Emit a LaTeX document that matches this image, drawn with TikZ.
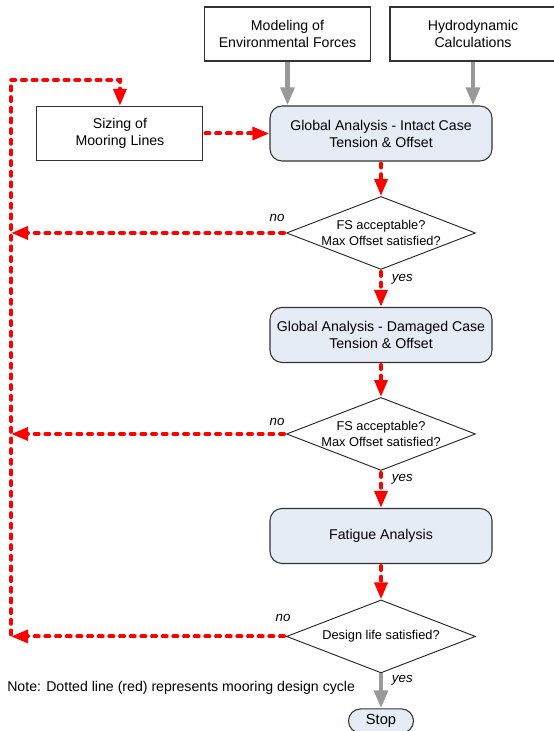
\documentclass[tikz,border=0pt]{standalone}
\usepackage{fontspec}
\setmainfont{Liberation Sans}
\usepackage{tikz}
\usetikzlibrary{arrows.meta,positioning,shapes.geometric}
\definecolor{procblue}{HTML}{E6ECF6}
\definecolor{cyclered}{HTML}{FF0000}
\definecolor{inputgray}{HTML}{999999}
\newcommand{\boxfont}{\fontsize{10.6}{12.8}\selectfont}
\newcommand{\decfont}{\fontsize{9.6}{11.6}\selectfont}

\begin{document}
\begin{tikzpicture}[
  x=0.75pt, y=-0.75pt,
  input/.style={draw=black!80, line width=0.8pt, fill=white, align=center, minimum width=124.5pt, minimum height=40.5pt, inner sep=0pt, font=\boxfont},
  proc/.style={draw=black!80, line width=0.8pt, rounded corners=9pt, fill=procblue, align=center, minimum width=166.5pt, minimum height=41.25pt, inner sep=0pt, font=\boxfont},
  decision/.style={draw=black!85, line width=0.7pt, diamond, fill=white, minimum width=141.75pt, minimum height=54.75pt, inner sep=0pt},
  dtext/.style={align=center, font=\decfont, inner sep=0pt},
  term/.style={draw=black!80, line width=0.8pt, rounded corners=9pt, fill=procblue, minimum width=48.75pt, minimum height=18pt, inner sep=0pt, font=\fontsize{11}{13}\selectfont},
  answer/.style={font=\fontsize{10}{12}\selectfont\itshape, inner sep=1pt},
  redge/.style={draw=cyclered, line width=3pt, line cap=round, dash pattern=on 3pt off 5pt, shorten <=1.5pt, -{Triangle[length=12.75pt, width=9.5pt]}},
  gedge/.style={draw=inputgray, line width=3.5pt, -{Triangle[length=13.5pt, width=10pt]}}
]
\useasboundingbox (0,0) rectangle (553,731);

% inputs
\node[input] (model) at (287.5,34) {Modeling of\\Environmental Forces};
\node[input] (hydro) at (473,34) {Hydrodynamic\\Calculations};

% main column
\node[proc] (intact) at (381,133.5) {Global Analysis - Intact Case\\Tension \& Offset};
\node[input, left=49.5pt of intact] (sizing) {Sizing of\\Mooring Lines};
\node[decision, below=25.85pt of intact, label={[dtext]center:FS acceptable?\\Max Offset satisfied?}] (d1) {};
\node[proc, below=27.75pt of d1] (damaged) {Global Analysis - Damaged Case\\Tension \& Offset};
\node[decision, below=25.5pt of damaged, label={[dtext]center:FS acceptable?\\Max Offset satisfied?}] (d2) {};
\node[proc, below=27.75pt of d2] (fatigue) {Fatigue Analysis};
\node[decision, below=26.6pt of fatigue, label={[dtext]center:Design life satisfied?}] (d3) {};
\node[term, below=26.25pt of d3] (stop) {Stop};

% answers
\node[answer, above left=7pt and 0pt of d1.west] (no1) {no};
\node[answer, above left=5pt and 0pt of d2.west] (no2) {no};
\node[answer, above left=10pt and -4.5pt of d3.west] (no3) {no};
\node[answer, below right=2pt and 7pt of d1.south] (yes1) {yes};
\node[answer, below right=1pt and 7pt of d2.south] (yes2) {yes};
\node[answer, below right=0.5pt and 7pt of d3.south] (yes3) {yes};

\node[anchor=west, inner sep=0pt, font=\boxfont] (note) at (7,687.5) {Note: Dotted line (red) represents mooring design cycle};

\coordinate (rail) at (11,80);

% inputs to analysis
\draw[gedge] (model) -- (model |- intact.north);
\draw[gedge] (hydro) -- (hydro |- intact.north);
\draw[gedge] (d3.south) -- (stop.north);

% design cycle
\draw[redge] (sizing) -- (intact);
\draw[redge] (intact) -- (d1);
\draw[redge] (d1) -- (damaged);
\draw[redge] (damaged) -- (d2);
\draw[redge] (d2) -- (fatigue);
\draw[redge] (fatigue) -- (d3);
\draw[redge] (d1.west) -- (d1.west -| rail);
\draw[redge] (d2.west) -- (d2.west -| rail);
\draw[redge] (d3.west) -- (d3.west -| rail);
\draw[redge] (d3.west -| rail) -- (rail) -| (sizing.north);
\end{tikzpicture}
\end{document}
